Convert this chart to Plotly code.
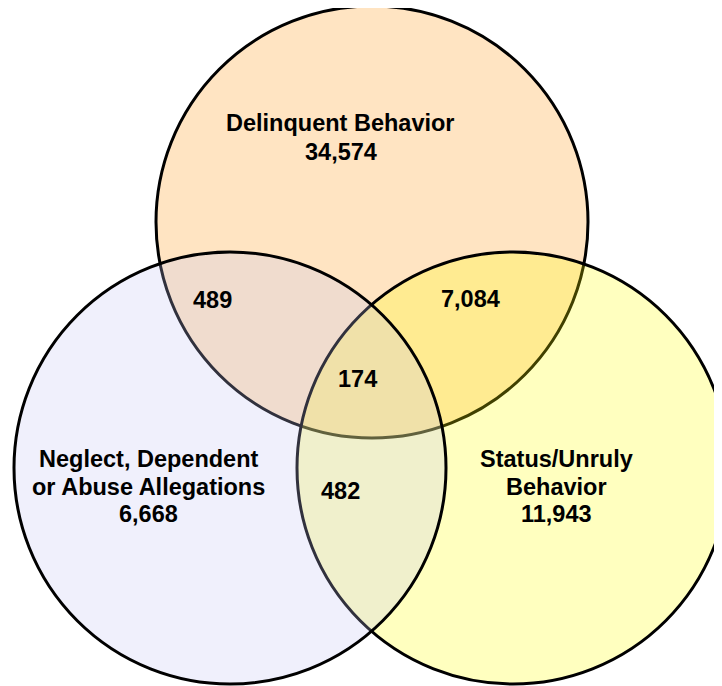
import plotly.graph_objects as go

# ---- data ----
set_names = ["Delinquent Behavior", "Status/Unruly<br>Behavior", "Neglect, Dependent<br>or Abuse Allegations"]
set_only_counts = [34574, 11943, 6668]
pair_labels = ["Delinquent & Neglect", "Delinquent & Status", "Neglect & Status"]
pair_counts = [489, 7084, 482]
all_three_count = 174

# ---- layout constants (pixel space of the 722x686 page) ----
W, H = 722, 686
OFF = 8  # default body margin of the html page
R = 216
centers = [(372, 222), (513, 468), (230, 468)]  # delinquent, status, neglect
fills = ["#FFE4C2", "rgba(255,255,0,0.25)", "rgba(195,195,243,0.25)"]

FS = 23.5
FONT = dict(family="Liberation Sans, Arial, sans-serif", size=FS, color="#000000")

fig = go.Figure()
fig.add_trace(go.Scatter(x=[OFF, W], y=[OFF, H], mode="markers",
                         marker=dict(opacity=0), hoverinfo="skip", showlegend=False))

for (cx, cy), fc in zip(centers, fills):
    fig.add_shape(type="circle", xref="x", yref="y",
                  x0=cx - R, x1=cx + R, y0=cy - R, y1=cy + R,
                  fillcolor=fc, line=dict(color="#000000", width=3), layer="above")


def fmt(v):
    return f"{v:,}"


def add_lines(lines, cx, baseline0, spacing):
    for i, t in enumerate(lines):
        b = baseline0 + i * spacing
        fig.add_annotation(x=cx, y=b - 0.32 * FS, text=f"<b>{t}</b>", showarrow=False,
                           xref="x", yref="y", xanchor="center", yanchor="middle",
                           font=FONT)


# set-only regions
add_lines(set_names[0].split("<br>") + [fmt(set_only_counts[0])], 340.5, 130.7, 29.3)
add_lines(set_names[1].split("<br>") + [fmt(set_only_counts[1])], 556.5, 467, 27.5)
add_lines(set_names[2].split("<br>") + [fmt(set_only_counts[2])], 148.5, 467, 27.5)
# pairwise regions
add_lines([fmt(pair_counts[0])], 212, 307.3, 0)
add_lines([fmt(pair_counts[1])], 470, 307, 0)
add_lines([fmt(pair_counts[2])], 340.5, 499, 0)
# centre
add_lines([fmt(all_three_count)], 357, 387, 0)

fig.update_layout(
    width=W - OFF, height=H - OFF, autosize=False,
    margin=dict(l=0, r=0, t=0, b=0),
    paper_bgcolor="#FFFFFF", plot_bgcolor="#FFFFFF",
    xaxis=dict(range=[OFF, W], visible=False, fixedrange=True),
    yaxis=dict(range=[H, OFF], visible=False, fixedrange=True),
    showlegend=False,
)

fig.write_html("out.html", config={"displayModeBar": False})
